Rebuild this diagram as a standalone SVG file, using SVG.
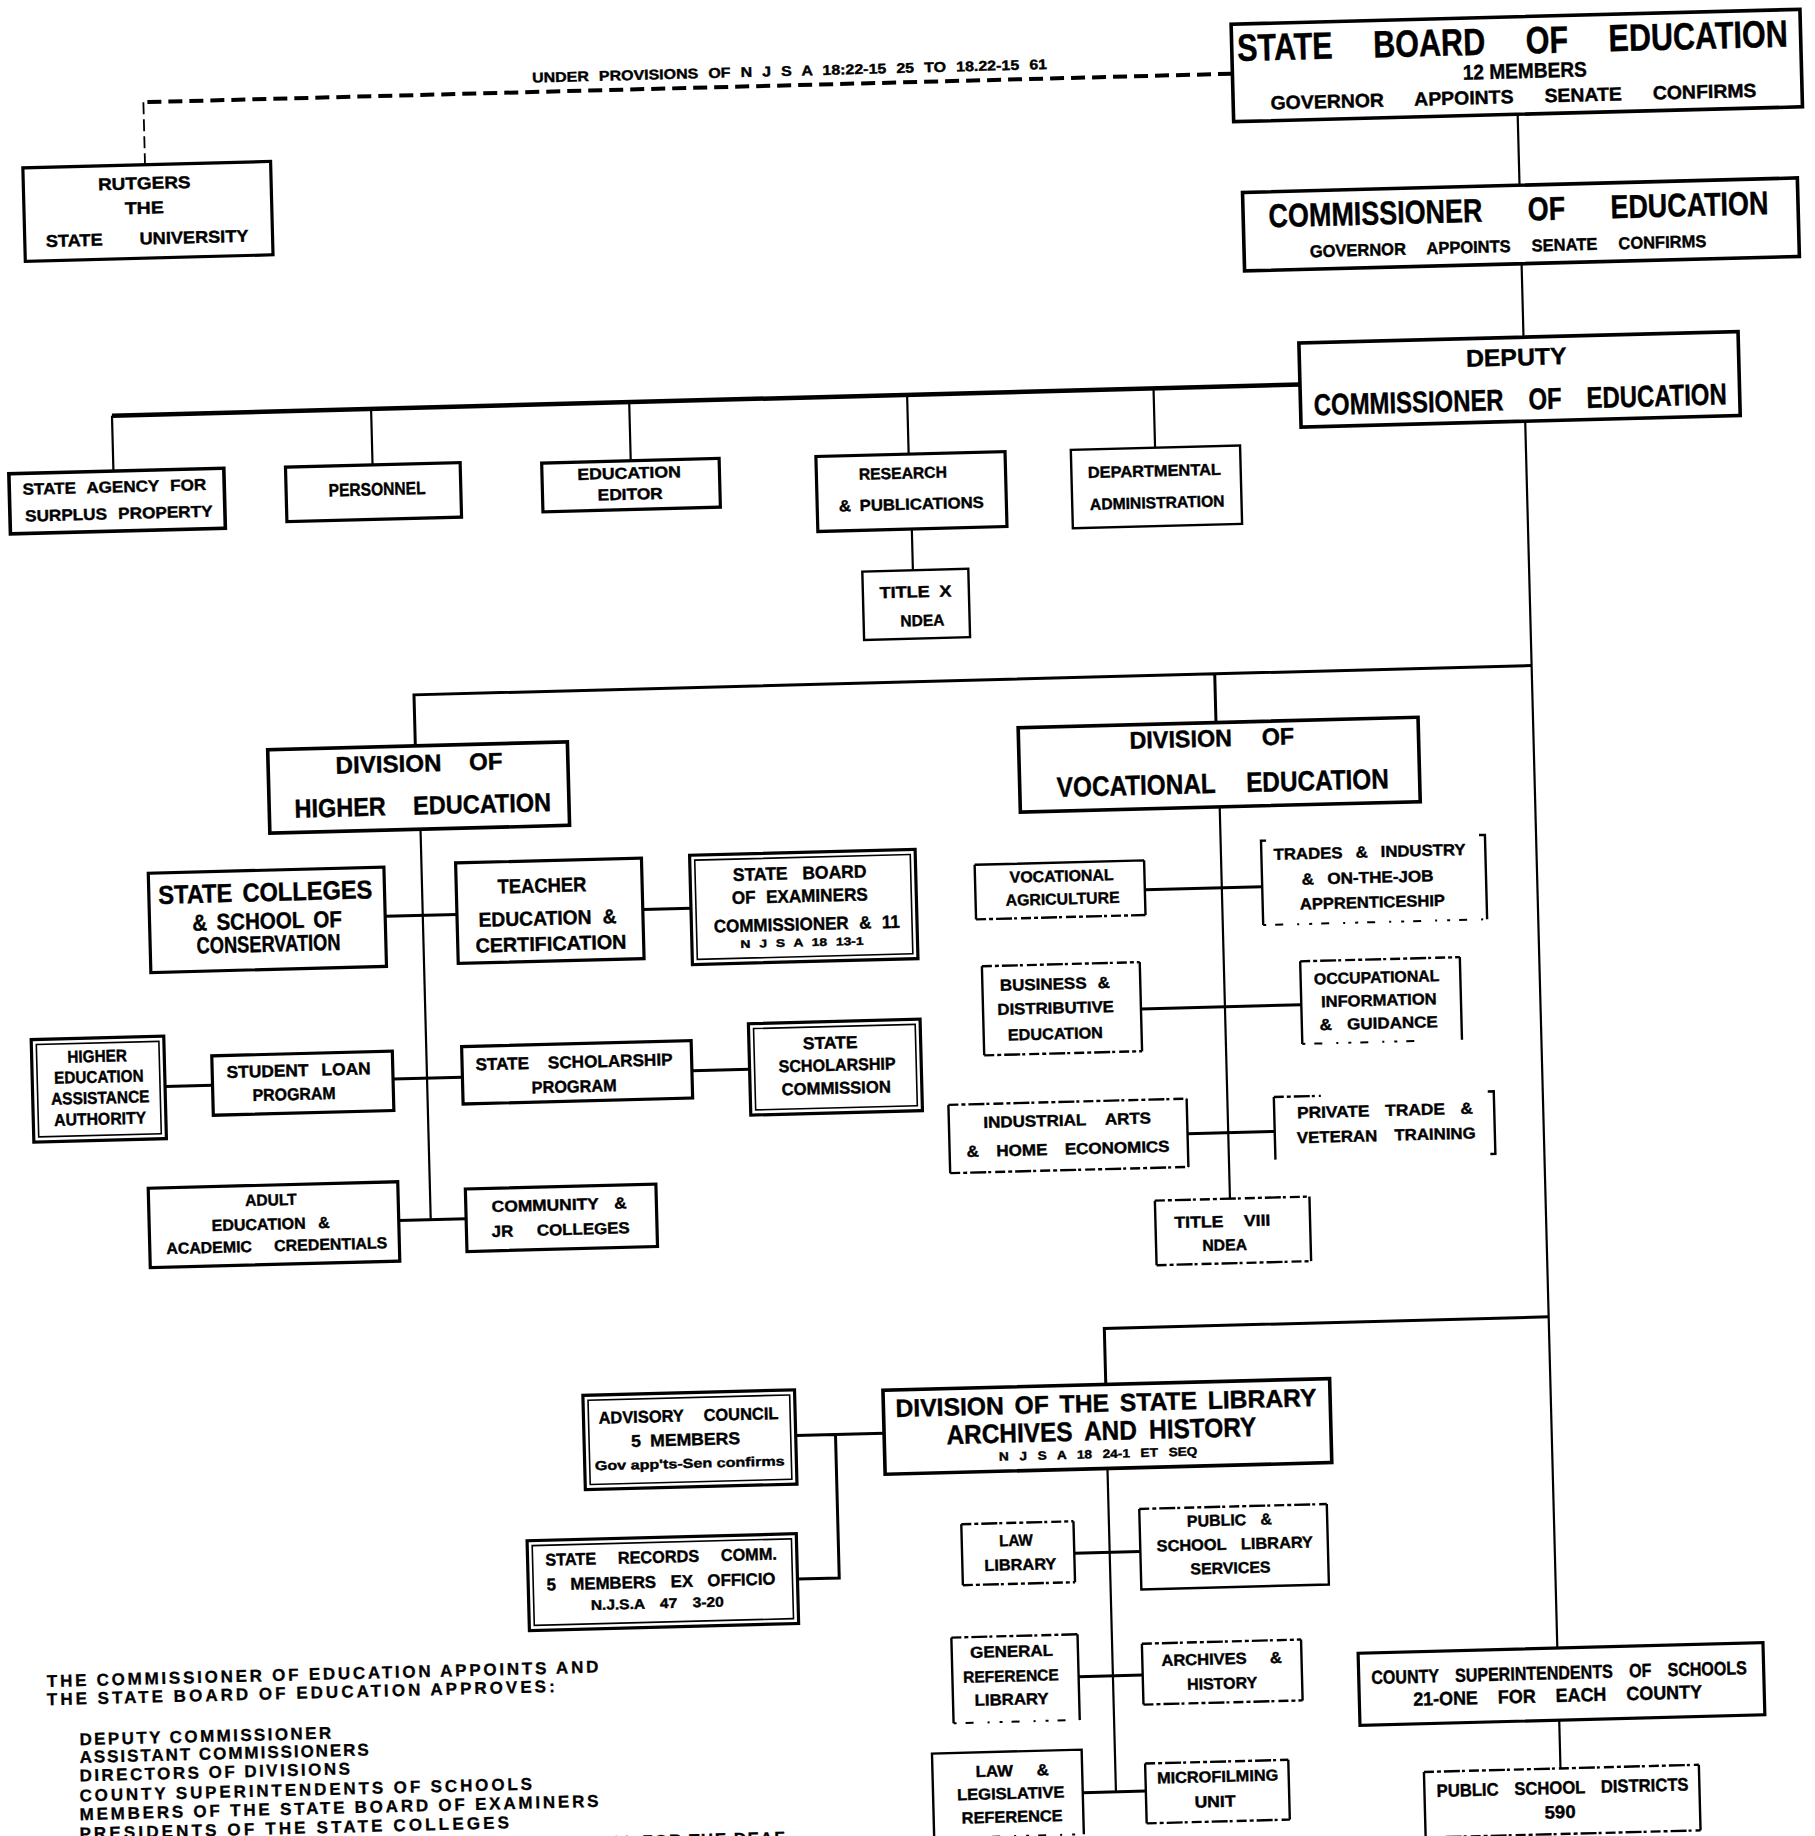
<svg xmlns="http://www.w3.org/2000/svg" width="1815" height="1836" viewBox="0 0 1815 1836">
<style>
  .box{fill:#fff;stroke:#000;stroke-width:3.2}
  .thin{fill:#fff;stroke:#000;stroke-width:2.4}
  .inner{fill:none;stroke:#000;stroke-width:1.6}
  .bg{fill:#fff;stroke:none}
  .sd{fill:none;stroke:#000;stroke-width:2.4}
  .dot{fill:none;stroke:#000;stroke-width:2.4;stroke-dasharray:10 3 4 3 16 2 3 4}
  .faint{fill:none;stroke:#000;stroke-width:2;stroke-dasharray:3 9 8 14 2 10}
  .ln{fill:none;stroke:#000;stroke-width:2.2}
  .ln3{fill:none;stroke:#000;stroke-width:3}
  .ln5{fill:none;stroke:#000;stroke-width:4.5}
  .dash{fill:none;stroke:#000;stroke-width:4;stroke-dasharray:14 7}
  .dashv{fill:none;stroke:#000;stroke-width:1.8;stroke-dasharray:12 5}
  text{font-family:"Liberation Sans",Arial,sans-serif;font-weight:700;fill:#000;stroke:#000;stroke-width:0.4}
  .note{font-family:"Liberation Sans",Arial,sans-serif;font-weight:700;font-size:17px;stroke-width:0.3}
</style>
<rect x="0" y="0" width="1815" height="1836" fill="#fff"/>
<g transform="rotate(-1.5 907.5 918)">

<!-- connectors -->
<g id="connectors">
  <path class="dash" d="M1254 82.5 H165"/>
  <path class="dashv" d="M165 82.5 V145"/>
  <text x="554.3" y="73" font-size="14" textLength="515" lengthAdjust="spacingAndGlyphs" style="word-spacing:5px">UNDER PROVISIONS OF N J S A 18:22-15 25 TO 18.22-15 61</text>
  <path class="ln" d="M1538.5 130.5 V201.5"/>
  <path class="ln" d="M1538.5 280 V353.5"/>
  <path class="ln5" d="M1313.8 395 H125.4"/>
  <path class="ln" d="M125.4 395 V450.5 M384.6 395 V451 M642.8 395 V453.7 M920.8 395 V454.3 M1167.3 395 V454.3"/>
  <path class="ln" d="M922 529.3 V570.5"/>
  <path class="ln" d="M1538 437.5 V1664.8"/>
  <path class="ln3" d="M1538 682 H420 V733 M1221 682 V730.7"/>
  <path class="ln" d="M423 816.5 V1207"/>
  <path class="ln3" d="M385.4 902.7 H457.2 M643.1 902.6 H691.3"/>
  <path class="ln3" d="M160.9 1067 H208.4 M389 1065.5 H458.4 M688 1065 H745.7"/>
  <path class="ln3" d="M391 1207 H458.4"/>
  <path class="ln" d="M1222.5 815 V1207"/>
  <path class="ln3" d="M1145.5 896 H1262.9 M1138.5 1015 H1298.9 M1181.8 1141 H1269"/>
  <path class="ln3" d="M1538 1333.5 H1093.5 V1389.5"/>
  <path class="ln3" d="M782.2 1432.5 H870.6 M822 1432.5 V1576 H780.2"/>
  <path class="ln" d="M1093 1473.5 V1797"/>
  <path class="ln3" d="M1057.6 1557.5 H1123.7 M1058.7 1681 H1122.8 M1059.8 1797 H1122.9"/>
  <path class="ln" d="M1538 1737 V1785.2"/>
</g>

<!-- top of the department -->
<g id="state-board">
  <rect class="box" x="1254.4" y="33" width="569" height="97.5" style="stroke-width:3.6"/>
  <text transform="translate(1259.7 70) scale(0.795 1)" x="0" y="0" font-size="38" textLength="693" lengthAdjust="spacingAndGlyphs" style="word-spacing:39.7px">STATE BOARD OF EDUCATION</text>
  <text x="1484.7" y="94.5" font-size="21" textLength="124" lengthAdjust="spacingAndGlyphs">12 MEMBERS</text>
  <text x="1291.8" y="119.3" font-size="19" textLength="486" lengthAdjust="spacingAndGlyphs" style="word-spacing:25px">GOVERNOR APPOINTS SENATE CONFIRMS</text>
</g>
<g id="rutgers">
  <rect class="box" x="42.8" y="145" width="247.8" height="93.4"/>
  <text x="117.5" y="169.3" font-size="17" textLength="92.6" lengthAdjust="spacingAndGlyphs">RUTGERS</text>
  <text x="143.6" y="194" font-size="17" textLength="39" lengthAdjust="spacingAndGlyphs">THE</text>
  <text x="63.9" y="224.7" font-size="17" textLength="202.6" lengthAdjust="spacingAndGlyphs" style="word-spacing:30px">STATE UNIVERSITY</text>
</g>
<g id="commissioner">
  <rect class="box" x="1261.4" y="201.5" width="555" height="78.5" style="stroke-width:3.6"/>
  <text transform="translate(1286.8 237) scale(0.8 1)" x="0" y="0" font-size="33" textLength="625" lengthAdjust="spacingAndGlyphs" style="word-spacing:46.4px">COMMISSIONER OF EDUCATION</text>
  <text x="1327.1" y="268" font-size="17" textLength="396.6" lengthAdjust="spacingAndGlyphs" style="word-spacing:17px">GOVERNOR APPOINTS SENATE CONFIRMS</text>
</g>
<g id="deputy">
  <rect class="box" x="1313.8" y="353.5" width="439.3" height="84" style="stroke-width:3.6"/>
  <text x="1480.4" y="381.6" font-size="24" textLength="100.7" lengthAdjust="spacingAndGlyphs">DEPUTY</text>
  <text transform="translate(1327.1 426) scale(0.786 1)" x="0" y="0" font-size="30" textLength="525.4" lengthAdjust="spacingAndGlyphs" style="word-spacing:22.9px">COMMISSIONER OF EDUCATION</text>
</g>

<!-- staff offices -->
<g id="surplus-property">
  <rect class="box" x="20.8" y="450.5" width="215" height="60" style="stroke-width:3.6"/>
  <text x="34.1" y="471.8" font-size="16" textLength="183.6" lengthAdjust="spacingAndGlyphs" style="word-spacing:6px">STATE AGENCY FOR</text>
  <text x="35.9" y="498.6" font-size="16" textLength="187.5" lengthAdjust="spacingAndGlyphs" style="word-spacing:6px">SURPLUS PROPERTY</text>
</g>
<g id="personnel">
  <rect class="box" x="297.5" y="451" width="174.7" height="54.6"/>
  <text x="340" y="481.5" font-size="18" textLength="97" lengthAdjust="spacingAndGlyphs">PERSONNEL</text>
</g>
<g id="education-editor">
  <rect class="box" x="553.7" y="453.7" width="177.5" height="48.7"/>
  <text x="589.1" y="471.4" font-size="16" textLength="103.4" lengthAdjust="spacingAndGlyphs">EDUCATION</text>
  <text x="608.9" y="492.6" font-size="16" textLength="65" lengthAdjust="spacingAndGlyphs">EDITOR</text>
</g>
<g id="research">
  <rect class="box" x="828" y="454.3" width="189.2" height="75"/>
  <text x="870.5" y="478.7" font-size="16" textLength="88" lengthAdjust="spacingAndGlyphs">RESEARCH</text>
  <text x="849.6" y="509.9" font-size="16" textLength="145" lengthAdjust="spacingAndGlyphs" style="word-spacing:4px">&amp; PUBLICATIONS</text>
</g>
<g id="title-x">
  <rect class="thin" x="871.4" y="570.5" width="106" height="68.4"/>
  <text x="888.1" y="597.6" font-size="16" textLength="71.8" lengthAdjust="spacingAndGlyphs" style="word-spacing:4px">TITLE X</text>
  <text x="908.1" y="626.5" font-size="16" textLength="44" lengthAdjust="spacingAndGlyphs">NDEA</text>
</g>
<g id="departmental-administration">
  <rect class="thin" x="1083" y="454.3" width="169.3" height="78.5"/>
  <text x="1099.5" y="483" font-size="16" textLength="133" lengthAdjust="spacingAndGlyphs">DEPARTMENTAL</text>
  <text x="1100.7" y="514.8" font-size="16" textLength="134.6" lengthAdjust="spacingAndGlyphs">ADMINISTRATION</text>
</g>

<!-- higher education -->
<g id="higher-education">
  <rect class="box" x="272.3" y="733" width="299.8" height="83.5" style="stroke-width:3.6"/>
  <text x="339.8" y="758.8" font-size="24" textLength="167" lengthAdjust="spacingAndGlyphs" style="word-spacing:21px">DIVISION OF</text>
  <text x="297.6" y="801.8" font-size="26" textLength="256.5" lengthAdjust="spacingAndGlyphs" style="word-spacing:23px">HIGHER EDUCATION</text>
</g>
<g id="state-colleges">
  <rect class="box" x="149.7" y="853.4" width="235.7" height="99.3"/>
  <text x="159.2" y="884.3" font-size="26" textLength="214" lengthAdjust="spacingAndGlyphs" style="word-spacing:4px">STATE COLLEGES</text>
  <text x="192.4" y="912" font-size="23" textLength="149.7" lengthAdjust="spacingAndGlyphs" style="word-spacing:4px">&amp; SCHOOL OF</text>
  <text x="196.1" y="935" font-size="23" textLength="144" lengthAdjust="spacingAndGlyphs">CONSERVATION</text>
</g>
<g id="teacher-education">
  <rect class="box" x="457.2" y="851.1" width="185.9" height="100.6"/>
  <text x="498.6" y="882.8" font-size="20" textLength="88.7" lengthAdjust="spacingAndGlyphs">TEACHER</text>
  <text x="478.6" y="915.6" font-size="20" textLength="138" lengthAdjust="spacingAndGlyphs" style="word-spacing:6px">EDUCATION &amp;</text>
  <text x="474.9" y="941.2" font-size="20" textLength="151" lengthAdjust="spacingAndGlyphs">CERTIFICATION</text>
</g>
<g id="board-of-examiners">
  <rect class="box" x="691.3" y="849.6" width="225.6" height="109.3"/>
  <rect class="inner" x="696.3" y="854.6" width="215.6" height="99.3"/>
  <text x="734" y="876.4" font-size="18" textLength="133.7" lengthAdjust="spacingAndGlyphs" style="word-spacing:10px">STATE BOARD</text>
  <text x="732.4" y="899.3" font-size="18" textLength="136" lengthAdjust="spacingAndGlyphs" style="word-spacing:6px">OF EXAMINERS</text>
  <text x="713.6" y="927.5" font-size="18" textLength="186" lengthAdjust="spacingAndGlyphs" style="word-spacing:6px">COMMISSIONER &amp; 11</text>
  <text x="739.9" y="943.6" font-size="11" textLength="123" lengthAdjust="spacingAndGlyphs" style="word-spacing:4px">N J S A 18 13-1</text>
</g>
<g id="assistance-authority">
  <rect class="box" x="28.3" y="1016.7" width="132.6" height="102.4"/>
  <rect class="inner" x="33.3" y="1021.7" width="122.6" height="92.4"/>
  <text x="64.1" y="1040.7" font-size="17" textLength="59.4" lengthAdjust="spacingAndGlyphs">HIGHER</text>
  <text x="50.2" y="1061.4" font-size="17" textLength="89.5" lengthAdjust="spacingAndGlyphs">EDUCATION</text>
  <text x="46.6" y="1082.4" font-size="17" textLength="98.5" lengthAdjust="spacingAndGlyphs">ASSISTANCE</text>
  <text x="49.1" y="1103.5" font-size="17" textLength="92.2" lengthAdjust="spacingAndGlyphs">AUTHORITY</text>
</g>
<g id="student-loan">
  <rect class="box" x="208.4" y="1037.6" width="180.6" height="59.4"/>
  <text x="222.8" y="1060.2" font-size="17" textLength="144" lengthAdjust="spacingAndGlyphs" style="word-spacing:8px">STUDENT LOAN</text>
  <text x="248.2" y="1083.9" font-size="17" textLength="83" lengthAdjust="spacingAndGlyphs">PROGRAM</text>
</g>
<g id="scholarship-program">
  <rect class="box" x="458.4" y="1034.9" width="229.6" height="57.4"/>
  <text x="471.8" y="1059" font-size="17" textLength="197" lengthAdjust="spacingAndGlyphs" style="word-spacing:14px">STATE SCHOLARSHIP</text>
  <text x="527.4" y="1083.5" font-size="17" textLength="85" lengthAdjust="spacingAndGlyphs">PROGRAM</text>
</g>
<g id="scholarship-commission">
  <rect class="box" x="745.7" y="1019.5" width="171.7" height="91.4"/>
  <rect class="inner" x="750.7" y="1024.5" width="161.7" height="81.4"/>
  <text x="799.6" y="1046.6" font-size="17" textLength="54.6" lengthAdjust="spacingAndGlyphs">STATE</text>
  <text x="774.8" y="1068.9" font-size="17" textLength="117" lengthAdjust="spacingAndGlyphs">SCHOLARSHIP</text>
  <text x="777.2" y="1091.9" font-size="17" textLength="109.2" lengthAdjust="spacingAndGlyphs">COMMISSION</text>
</g>
<g id="adult-education">
  <rect class="box" x="141.4" y="1168.3" width="249.6" height="79.4"/>
  <text x="238" y="1188.7" font-size="16" textLength="51.5" lengthAdjust="spacingAndGlyphs">ADULT</text>
  <text x="203.8" y="1212.8" font-size="16" textLength="118" lengthAdjust="spacingAndGlyphs" style="word-spacing:8px">EDUCATION &amp;</text>
  <text x="157.9" y="1234.6" font-size="16" textLength="221" lengthAdjust="spacingAndGlyphs" style="word-spacing:18px">ACADEMIC CREDENTIALS</text>
</g>
<g id="community-colleges">
  <rect class="box" x="458.4" y="1177.4" width="190.6" height="62.5"/>
  <text x="484.3" y="1201.1" font-size="16" textLength="135" lengthAdjust="spacingAndGlyphs" style="word-spacing:10px">COMMUNITY &amp;</text>
  <text x="483.6" y="1225.9" font-size="16" textLength="138" lengthAdjust="spacingAndGlyphs" style="word-spacing:18px">JR COLLEGES</text>
</g>

<!-- vocational education -->
<g id="vocational-education">
  <rect class="box" x="1023.1" y="730.7" width="400" height="84.4" style="stroke-width:3.6"/>
  <text x="1134.1" y="754.7" font-size="24" textLength="164.7" lengthAdjust="spacingAndGlyphs" style="word-spacing:24px">DIVISION OF</text>
  <text x="1060.2" y="801" font-size="28" textLength="332" lengthAdjust="spacingAndGlyphs" style="word-spacing:28px">VOCATIONAL EDUCATION</text>
</g>
<g id="vocational-agriculture">
  <rect class="bg" x="976" y="866.6" width="169.5" height="54.6"/>
  <path class="sd" d="M976 866.6 V921.2 M1145.5 866.6 V921.2 M976 866.6 H1145.5"/>
  <path class="dot" d="M976 921.2 H1145.5"/>
  <text x="1010.7" y="885.5" font-size="16" textLength="104" lengthAdjust="spacingAndGlyphs">VOCATIONAL</text>
  <text x="1006.1" y="908.4" font-size="16" textLength="114" lengthAdjust="spacingAndGlyphs">AGRICULTURE</text>
</g>
<g id="trades-industry">
  <rect class="bg" x="1262.9" y="850" width="224" height="84.4"/>
  <path class="sd" d="M1268 850 H1262.9 V934.4 M1481 850 H1486.9 V934.4"/>
  <path class="faint" d="M1262.9 934.4 H1486.9"/>
  <text x="1275.2" y="869.5" font-size="16" textLength="192" lengthAdjust="spacingAndGlyphs" style="word-spacing:8px">TRADES &amp; INDUSTRY</text>
  <text x="1302.5" y="895" font-size="16" textLength="132" lengthAdjust="spacingAndGlyphs" style="word-spacing:8px">&amp; ON-THE-JOB</text>
  <text x="1300.2" y="919.9" font-size="16" textLength="145" lengthAdjust="spacingAndGlyphs">APPRENTICESHIP</text>
</g>
<g id="business-education">
  <rect class="bg" x="980.6" y="968.2" width="157.9" height="89.1"/>
  <path class="sd" d="M980.6 968.2 V1057.3 M1138.5 968.2 V1057.3"/>
  <path class="dot" d="M980.6 968.2 H1138.5 M980.6 1057.3 H1138.5"/>
  <text x="998.1" y="993.2" font-size="16" textLength="110" lengthAdjust="spacingAndGlyphs" style="word-spacing:6px">BUSINESS &amp;</text>
  <text x="995" y="1017.3" font-size="16" textLength="116.5" lengthAdjust="spacingAndGlyphs">DISTRIBUTIVE</text>
  <text x="1004.8" y="1043.1" font-size="16" textLength="95" lengthAdjust="spacingAndGlyphs">EDUCATION</text>
</g>
<g id="occupational-information">
  <rect class="bg" x="1298.9" y="971.6" width="159.7" height="82.6"/>
  <path class="sd" d="M1298.9 971.6 V1054.2 M1458.6 971.6 V1054.2"/>
  <path class="dot" d="M1298.9 971.6 H1458.6"/>
  <path class="faint" d="M1298.9 1054.2 H1420"/>
  <text x="1312.2" y="995" font-size="16" textLength="125.5" lengthAdjust="spacingAndGlyphs">OCCUPATIONAL</text>
  <text x="1318.7" y="1018" font-size="16" textLength="115.6" lengthAdjust="spacingAndGlyphs">INFORMATION</text>
  <text x="1316.6" y="1041" font-size="16" textLength="118.3" lengthAdjust="spacingAndGlyphs" style="word-spacing:10px">&amp; GUIDANCE</text>
</g>
<g id="industrial-arts">
  <rect class="bg" x="943.5" y="1105.9" width="238.3" height="68.3"/>
  <path class="sd" d="M943.5 1105.9 V1174.2 M1181.8 1105.9 V1174.2"/>
  <path class="dot" d="M943.5 1105.9 H1181.8 M943.5 1174.2 H1181.8"/>
  <text x="978.1" y="1129.8" font-size="16" textLength="167.5" lengthAdjust="spacingAndGlyphs" style="word-spacing:14px">INDUSTRIAL ARTS</text>
  <text x="960.5" y="1158.6" font-size="16" textLength="203" lengthAdjust="spacingAndGlyphs" style="word-spacing:12px">&amp; HOME ECONOMICS</text>
</g>
<g id="private-trade">
  <rect class="bg" x="1269" y="1106.6" width="220" height="62.6"/>
  <path class="sd" d="M1269 1106.6 V1169.2 M1483 1106.6 H1489 V1169.2 H1484"/>
  <path class="dot" d="M1269 1106.6 H1316"/>
  <text x="1291.8" y="1128.4" font-size="16" textLength="176" lengthAdjust="spacingAndGlyphs" style="word-spacing:10px">PRIVATE TRADE &amp;</text>
  <text x="1291.1" y="1153.3" font-size="16" textLength="178.7" lengthAdjust="spacingAndGlyphs" style="word-spacing:12px">VETERAN TRAINING</text>
</g>
<g id="title-viii">
  <rect class="bg" x="1147.4" y="1207" width="154.6" height="64.6"/>
  <path class="sd" d="M1147.4 1207 V1271.6 M1302 1207 V1271.6"/>
  <path class="dot" d="M1147.4 1207 H1302 M1147.4 1271.6 H1302"/>
  <text x="1166.3" y="1235" font-size="16" textLength="96" lengthAdjust="spacingAndGlyphs" style="word-spacing:14px">TITLE VIII</text>
  <text x="1193.6" y="1258.7" font-size="16" textLength="44.7" lengthAdjust="spacingAndGlyphs">NDEA</text>
</g>

<!-- state library -->
<g id="state-library">
  <rect class="box" x="870.6" y="1389.5" width="446.8" height="84" style="stroke-width:3.6"/>
  <text x="882.7" y="1416.6" font-size="25" textLength="421" lengthAdjust="spacingAndGlyphs" style="word-spacing:4px">DIVISION OF THE STATE LIBRARY</text>
  <text x="932.9" y="1445" font-size="27" textLength="310" lengthAdjust="spacingAndGlyphs" style="word-spacing:6px">ARCHIVES AND HISTORY</text>
  <text x="984.8" y="1463" font-size="12" textLength="198.5" lengthAdjust="spacingAndGlyphs" style="word-spacing:6px">N J S A 18 24-1 ET SEQ</text>
</g>
<g id="advisory-council">
  <rect class="box" x="570.5" y="1386.7" width="211.7" height="94.3"/>
  <rect class="inner" x="575.5" y="1391.7" width="201.7" height="84.3"/>
  <text x="585.5" y="1415.5" font-size="17" textLength="180" lengthAdjust="spacingAndGlyphs" style="word-spacing:16px">ADVISORY COUNCIL</text>
  <text x="617.6" y="1439.5" font-size="17" textLength="109" lengthAdjust="spacingAndGlyphs" style="word-spacing:4px">5 MEMBERS</text>
  <text x="580.6" y="1462" font-size="13" textLength="189.8" lengthAdjust="spacingAndGlyphs">Gov app'ts-Sen confirms</text>
</g>
<g id="state-records">
  <rect class="box" x="510.9" y="1530.6" width="269.3" height="89.8"/>
  <rect class="inner" x="515.9" y="1535.6" width="259.3" height="79.8"/>
  <text x="528.6" y="1556" font-size="17" textLength="231.6" lengthAdjust="spacingAndGlyphs" style="word-spacing:18px">STATE RECORDS COMM.</text>
  <text x="529.2" y="1580.8" font-size="17" textLength="229" lengthAdjust="spacingAndGlyphs" style="word-spacing:10px">5 MEMBERS EX OFFICIO</text>
  <text x="572.9" y="1601.5" font-size="14" textLength="133" lengthAdjust="spacingAndGlyphs" style="word-spacing:10px">N.J.S.A 47 3-20</text>
</g>
<g id="law-library">
  <rect class="bg" x="945.4" y="1525.4" width="112.2" height="61"/>
  <path class="sd" d="M945.4 1525.4 V1586.4 M1057.6 1525.4 V1586.4"/>
  <path class="dot" d="M945.4 1525.4 H1057.6 M945.4 1586.4 H1057.6"/>
  <text x="982.7" y="1548.4" font-size="16" textLength="33.8" lengthAdjust="spacingAndGlyphs">LAW</text>
  <text x="967.5" y="1572.8" font-size="16" textLength="71.8" lengthAdjust="spacingAndGlyphs">LIBRARY</text>
</g>
<g id="library-services">
  <rect class="bg" x="1123.7" y="1514.8" width="187.6" height="80.5"/>
  <path class="sd" d="M1123.7 1514.8 V1595.3 H1311.3 V1514.8"/>
  <path class="dot" d="M1123.7 1514.8 H1311.3"/>
  <text x="1171.1" y="1533.8" font-size="16" textLength="85" lengthAdjust="spacingAndGlyphs" style="word-spacing:10px">PUBLIC &amp;</text>
  <text x="1140.1" y="1557.8" font-size="16" textLength="156.3" lengthAdjust="spacingAndGlyphs" style="word-spacing:10px">SCHOOL LIBRARY</text>
  <text x="1173.3" y="1581.7" font-size="16" textLength="80" lengthAdjust="spacingAndGlyphs">SERVICES</text>
</g>
<g id="general-reference">
  <rect class="bg" x="932.5" y="1638.5" width="126.2" height="85.7"/>
  <path class="sd" d="M932.5 1638.5 V1724.2 M1058.7 1638.5 V1724.2"/>
  <path class="dot" d="M932.5 1638.5 H1058.7"/>
  <path class="faint" d="M932.5 1724.2 H1058.7"/>
  <text x="950.8" y="1659.3" font-size="16" textLength="83" lengthAdjust="spacingAndGlyphs">GENERAL</text>
  <text x="943.2" y="1684" font-size="16" textLength="95.7" lengthAdjust="spacingAndGlyphs">REFERENCE</text>
  <text x="954.1" y="1707.3" font-size="16" textLength="74" lengthAdjust="spacingAndGlyphs">LIBRARY</text>
</g>
<g id="archives-history">
  <rect class="bg" x="1122.8" y="1649.6" width="159.2" height="60.9"/>
  <path class="sd" d="M1122.8 1649.6 V1710.5 M1282 1649.6 V1710.5"/>
  <path class="dot" d="M1122.8 1649.6 H1282 M1122.8 1710.5 H1282"/>
  <text x="1141.8" y="1672.4" font-size="16" textLength="120.6" lengthAdjust="spacingAndGlyphs" style="word-spacing:18px">ARCHIVES &amp;</text>
  <text x="1167" y="1696.9" font-size="16" textLength="70" lengthAdjust="spacingAndGlyphs">HISTORY</text>
</g>
<g id="legislative-reference">
  <rect class="bg" x="910.1" y="1753.9" width="149.7" height="84.7"/>
  <path class="sd" d="M910.1 1838.6 V1753.9 H1059.8 V1838.6"/>
  <path class="faint" d="M910.1 1838.6 H1059.8"/>
  <text x="953.3" y="1778.5" font-size="16" textLength="73" lengthAdjust="spacingAndGlyphs" style="word-spacing:18px">LAW &amp;</text>
  <text x="934.1" y="1801.3" font-size="16" textLength="107.3" lengthAdjust="spacingAndGlyphs">LEGISLATIVE</text>
  <text x="938.1" y="1824.7" font-size="16" textLength="101" lengthAdjust="spacingAndGlyphs">REFERENCE</text>
</g>
<g id="microfilming">
  <rect class="bg" x="1122.9" y="1769.5" width="143.2" height="59.8"/>
  <path class="sd" d="M1122.9 1769.5 V1829.3 M1266.1 1769.5 V1829.3"/>
  <path class="dot" d="M1122.9 1769.5 H1266.1 M1122.9 1829.3 H1266.1"/>
  <text x="1134.4" y="1789.8" font-size="16" textLength="121.3" lengthAdjust="spacingAndGlyphs">MICROFILMING</text>
  <text x="1171.3" y="1814.8" font-size="16" textLength="41" lengthAdjust="spacingAndGlyphs">UNIT</text>
</g>

<!-- local schools -->
<g id="county-superintendents">
  <rect class="box" x="1338.7" y="1664.8" width="405" height="72.1"/>
  <text x="1351.3" y="1696" font-size="19" textLength="375.6" lengthAdjust="spacingAndGlyphs" style="word-spacing:14px">COUNTY SUPERINTENDENTS OF SCHOOLS</text>
  <text x="1392.6" y="1718.8" font-size="19" textLength="288.8" lengthAdjust="spacingAndGlyphs" style="word-spacing:16px">21-ONE FOR EACH COUNTY</text>
</g>
<g id="school-districts">
  <rect class="bg" x="1401.4" y="1785.2" width="275" height="65.6"/>
  <path class="sd" d="M1401.4 1785.2 V1850.8 M1676.4 1785.2 V1850.8"/>
  <path class="dot" d="M1401.4 1785.2 H1676.4 M1401.4 1850.8 H1676.4"/>
  <text x="1413.6" y="1810.6" font-size="18" textLength="252" lengthAdjust="spacingAndGlyphs" style="word-spacing:12px">PUBLIC SCHOOL DISTRICTS</text>
  <text x="1521" y="1835" font-size="18" textLength="31" lengthAdjust="spacingAndGlyphs">590</text>
</g>

<!-- appointments note -->
<g id="appointments-note">
  <text class="note" x="27.2" y="1664.2" textLength="551.6" lengthAdjust="spacing">THE COMMISSIONER OF EDUCATION APPOINTS AND</text>
  <text class="note" x="26.7" y="1682.5" textLength="508" lengthAdjust="spacing">THE STATE BOARD OF EDUCATION APPROVES:</text>
  <text class="note" x="58.3" y="1723.3" textLength="251.7" lengthAdjust="spacing">DEPUTY COMMISSIONER</text>
  <text class="note" x="57.9" y="1741" textLength="289.3" lengthAdjust="spacing">ASSISTANT COMMISSIONERS</text>
  <text class="note" x="57.4" y="1759.5" textLength="270.4" lengthAdjust="spacing">DIRECTORS OF DIVISIONS</text>
  <text class="note" x="56.8" y="1779.5" textLength="452.6" lengthAdjust="spacing">COUNTY SUPERINTENDENTS OF SCHOOLS</text>
  <text class="note" x="56.4" y="1798.3" textLength="519" lengthAdjust="spacing">MEMBERS OF THE STATE BOARD OF EXAMINERS</text>
  <text class="note" x="55.8" y="1817.5" textLength="429.6" lengthAdjust="spacing">PRESIDENTS OF THE STATE COLLEGES</text>
  <text class="note" x="530.6" y="1840" textLength="230" lengthAdjust="spacing">SCHOOL FOR THE DEAF</text>
</g>

</g>
</svg>
